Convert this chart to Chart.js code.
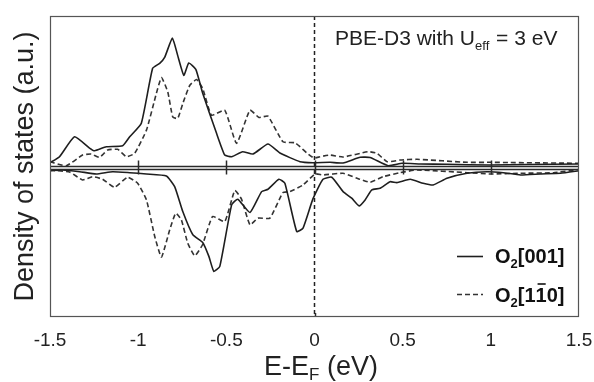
<!DOCTYPE html>
<html>
<head>
<meta charset="utf-8">
<script src="https://cdn.jsdelivr.net/npm/chart.js@4/dist/chart.umd.min.js"></script>
<style>
html,body{margin:0;padding:0;background:#fff;}
#wrap{width:594px;height:382px;}
</style>
</head>
<body>
<div id="wrap"><canvas id="c" width="594" height="382"></canvas></div>
<script>
// ---- data (E - E_F in eV, DOS in arbitrary units) ----
const energy001Up = [-1.50,-1.446,-1.361,-1.276,-1.247,-1.181,-1.088,-1.048,-0.982,-0.918,-0.878,-0.849,-0.806,-0.776,-0.741,-0.713,-0.673,-0.634,-0.556,-0.509,-0.470,-0.408,-0.349,-0.264,-0.196,-0.082,-0.009,0.088,0.162,0.259,0.315,0.418,0.497,0.60,0.75,0.997,1.2,1.50];
const dos001Up = [0.48,1.08,3.08,1.95,1.68,2.08,2.18,3.08,4.45,9.95,10.45,11.08,12.98,11.25,9.25,10.48,9.85,7.45,3.45,1.25,1.08,1.58,1.35,2.35,1.45,0.58,0.48,0.52,0.45,1.02,1.00,0.18,0.42,0.35,0.32,0.25,0.30,0.35];

const energy110Up = [-1.50,-1.408,-1.315,-1.266,-1.219,-1.173,-1.116,-1.067,-1.020,-0.953,-0.897,-0.868,-0.832,-0.804,-0.776,-0.747,-0.707,-0.669,-0.634,-0.584,-0.509,-0.442,-0.366,-0.315,-0.264,-0.179,-0.111,-0.082,-0.043,-0.003,0.031,0.088,0.162,0.304,0.355,0.412,0.486,0.582,0.866,0.997,1.50];
const dos110Up = [0.58,0.18,1.25,1.35,1.02,1.75,1.82,1.08,1.42,3.75,7.42,9.02,7.58,5.08,4.92,6.42,8.25,8.82,7.92,5.25,5.75,2.42,5.75,5.02,5.15,2.58,2.48,2.08,1.45,0.95,1.08,1.25,1.05,1.58,1.42,0.58,0.75,0.82,0.52,0.52,0.42];

const energy001Down = [-1.50,-1.429,-1.332,-1.238,-1.145,-1.048,-0.953,-0.840,-0.793,-0.747,-0.690,-0.634,-0.599,-0.571,-0.537,-0.470,-0.435,-0.366,-0.300,-0.264,-0.202,-0.168,-0.101,-0.065,-0.009,0.048,0.098,0.162,0.211,0.253,0.287,0.325,0.372,0.429,0.467,0.543,0.616,0.673,0.751,0.865,0.978,1.071,1.168,1.281,1.395,1.50];
const dos001Down = [-0.32,-0.25,-0.42,-0.65,-0.42,-0.52,-0.65,-0.85,-1.92,-4.42,-6.75,-7.52,-8.92,-10.42,-9.92,-3.75,-3.18,-4.52,-2.42,-2.18,-1.18,-1.58,-6.42,-6.08,-3.15,-1.18,-0.98,-2.42,-3.08,-3.85,-3.25,-2.25,-2.08,-1.42,-1.52,-1.18,-1.58,-1.75,-1.08,-0.58,-0.42,-0.52,-0.75,-0.65,-0.58,-0.32];

const energy110Down = [-1.50,-1.465,-1.389,-1.315,-1.259,-1.202,-1.134,-1.060,-1.003,-0.953,-0.906,-0.868,-0.821,-0.787,-0.755,-0.719,-0.679,-0.635,-0.578,-0.509,-0.452,-0.414,-0.366,-0.321,-0.253,-0.179,-0.139,-0.065,0.003,0.048,0.162,0.241,0.315,0.389,0.486,0.582,0.866,0.997,1.168,1.355,1.50];
const dos110Down = [-0.30,-0.32,-0.45,-1.25,-0.92,-1.18,-1.98,-0.98,-1.58,-3.25,-6.92,-8.98,-6.25,-4.58,-5.25,-7.58,-8.85,-7.75,-4.92,-5.42,-2.32,-3.18,-5.75,-5.08,-5.08,-2.52,-2.42,-1.75,-0.65,-0.75,-0.58,-1.08,-1.48,-0.92,-0.52,-0.25,-0.52,-0.65,-0.58,-0.52,-0.20];

const xTickValues = [-1.5,-1,-0.5,0,0.5,1,1.5];
const midTickValues = [-1,-0.5,0,0.5,1];
const seriesNames = ['O2[001]','O2[1-10]'];

const toPts = (xs, ys) => xs.map((x, i) => ({x: x, y: ys[i]}));

const FONT = "'Liberation Sans', Arial, sans-serif";
const SOLID = '#1e1e1e';
const DASH = '#333333';

const decorPlugin = {
  id: 'decor',
  beforeDatasetsDraw(chart) {
    const {ctx, chartArea: a, scales: {x, y}} = chart;
    ctx.save();
    const x0 = x.getPixelForValue(0);
    ctx.strokeStyle = '#222';
    ctx.lineWidth = 1.5;
    ctx.setLineDash([4, 3]);
    ctx.beginPath(); ctx.moveTo(x0, a.top); ctx.lineTo(x0, a.bottom); ctx.stroke();
    ctx.setLineDash([]);
    ctx.restore();
  },
  afterDatasetsDraw(chart) {
    const {ctx, chartArea: a, scales: {x, y}} = chart;
    ctx.save();
    ctx.strokeStyle = '#2a2a2a';
    ctx.lineWidth = 1.6;
    [0.15, -0.15].forEach(v => {
      const py = Math.round(y.getPixelForValue(v)) + 0.5;
      ctx.beginPath(); ctx.moveTo(a.left, py); ctx.lineTo(a.right, py); ctx.stroke();
    });
    const yc = y.getPixelForValue(0);
    ctx.lineWidth = 1.5;
    midTickValues.forEach(v => {
      const px = Math.round(x.getPixelForValue(v)) + 0.5;
      ctx.beginPath(); ctx.moveTo(px, yc - 7); ctx.lineTo(px, yc + 7); ctx.stroke();
    });
    const px0 = Math.round(x.getPixelForValue(0)) + 0.5;
    ctx.beginPath(); ctx.moveTo(px0, a.bottom); ctx.lineTo(px0, a.bottom - 4); ctx.stroke();
    ctx.strokeStyle = '#555';
    ctx.lineWidth = 1.2;
    ctx.strokeRect(a.left + 0.5, a.top + 0.5, a.right - a.left - 1, a.bottom - a.top - 1);

    ctx.fillStyle = '#222';
    ctx.textBaseline = 'alphabetic';
    ctx.textAlign = 'left';
    let tx = 335, ty = 45;
    ctx.font = '21px ' + FONT;
    ctx.fillText('PBE-D3 with U', tx, ty);
    tx += ctx.measureText('PBE-D3 with U').width;
    ctx.font = '13px ' + FONT;
    ctx.fillText('eff', tx, ty + 5);
    tx += ctx.measureText('eff').width + 1;
    ctx.font = '21px ' + FONT;
    ctx.fillText(' = 3 eV', tx, ty);

    ctx.strokeStyle = SOLID;
    ctx.lineWidth = 1.6;
    ctx.beginPath(); ctx.moveTo(457, 256.5); ctx.lineTo(483, 256.5); ctx.stroke();
    ctx.strokeStyle = DASH;
    ctx.setLineDash([5, 3]);
    ctx.beginPath(); ctx.moveTo(457, 294.5); ctx.lineTo(483, 294.5); ctx.stroke();
    ctx.setLineDash([]);

    const drawO2 = (lx, ly) => {
      ctx.font = 'bold 20px ' + FONT;
      ctx.fillText('O', lx, ly);
      lx += ctx.measureText('O').width;
      ctx.font = 'bold 13px ' + FONT;
      ctx.fillText('2', lx, ly + 5);
      lx += ctx.measureText('2').width;
      return lx;
    };
    ctx.fillStyle = '#111';
    let lx = drawO2(495, 263);
    ctx.font = 'bold 20px ' + FONT;
    ctx.fillText('[001]', lx, 263);

    lx = drawO2(495, 301.5);
    ctx.font = 'bold 20px ' + FONT;
    ctx.fillText('[1', lx, 301.5);
    lx += ctx.measureText('[1').width;
    const w1 = ctx.measureText('1').width;
    ctx.fillText('1', lx, 301.5);
    ctx.strokeStyle = '#111';
    ctx.lineWidth = 1.6;
    ctx.beginPath(); ctx.moveTo(lx + 2, 284); ctx.lineTo(lx + w1 - 1, 284); ctx.stroke();
    lx += w1;
    ctx.fillText('0]', lx, 301.5);

    ctx.fillStyle = '#222';
    ctx.font = '27px ' + FONT;
    const p1 = 'E-E', p3 = ' (eV)';
    const w1t = ctx.measureText(p1).width;
    const w3t = ctx.measureText(p3).width;
    ctx.font = '17px ' + FONT;
    const w2t = ctx.measureText('F').width;
    const total = w1t + w2t + w3t;
    let sx = 321 - total / 2;
    const sy = 375;
    ctx.font = '27px ' + FONT;
    ctx.fillText(p1, sx, sy); sx += w1t;
    ctx.font = '17px ' + FONT;
    ctx.fillText('F', sx, sy + 5); sx += w2t;
    ctx.font = '27px ' + FONT;
    ctx.fillText(p3, sx, sy);
    ctx.restore();
  }
};

new Chart(document.getElementById('c'), {
  type: 'line',
  data: {
    datasets: [
      {label: seriesNames[0], data: toPts(energy001Up, dos001Up), borderColor: SOLID, borderWidth: 1.6},
      {label: seriesNames[1], data: toPts(energy110Up, dos110Up), borderColor: DASH, borderWidth: 1.6, borderDash: [5, 3]},
      {label: seriesNames[0] + ' down', data: toPts(energy001Down, dos001Down), borderColor: SOLID, borderWidth: 1.6},
      {label: seriesNames[1] + ' down', data: toPts(energy110Down, dos110Down), borderColor: DASH, borderWidth: 1.6, borderDash: [5, 3]}
    ]
  },
  options: {
    responsive: false,
    animation: false,
    devicePixelRatio: 1,
    layout: {padding: {left: 0, top: 16, right: 15, bottom: 0}},
    elements: {point: {radius: 0}, line: {tension: 0.15, fill: false}},
    plugins: {legend: {display: false}, tooltip: {enabled: false}},
    scales: {
      x: {
        type: 'linear', min: -1.5, max: 1.5,
        afterBuildTicks: s => { s.ticks = xTickValues.map(v => ({value: v})); },
        afterFit: s => { s.height = 65; s.paddingLeft = 0; s.paddingRight = 0; },
        grid: {display: false, drawTicks: false},
        border: {display: false},
        ticks: {
          padding: 12, color: '#222', font: {family: FONT, size: 19},
          callback: v => String(v)
        }
      },
      y: {
        type: 'linear', min: -15, max: 15.2,
        afterFit: s => { s.width = 50; s.paddingTop = 0; s.paddingBottom = 0; },
        grid: {display: false, drawTicks: false},
        border: {display: false},
        ticks: {display: false},
        title: {display: true, text: 'Density of states (a.u.)', color: '#222',
                font: {family: FONT, size: 27}, padding: {top: 9, bottom: 0}}
      }
    }
  },
  plugins: [decorPlugin]
});
</script>
</body>
</html>
